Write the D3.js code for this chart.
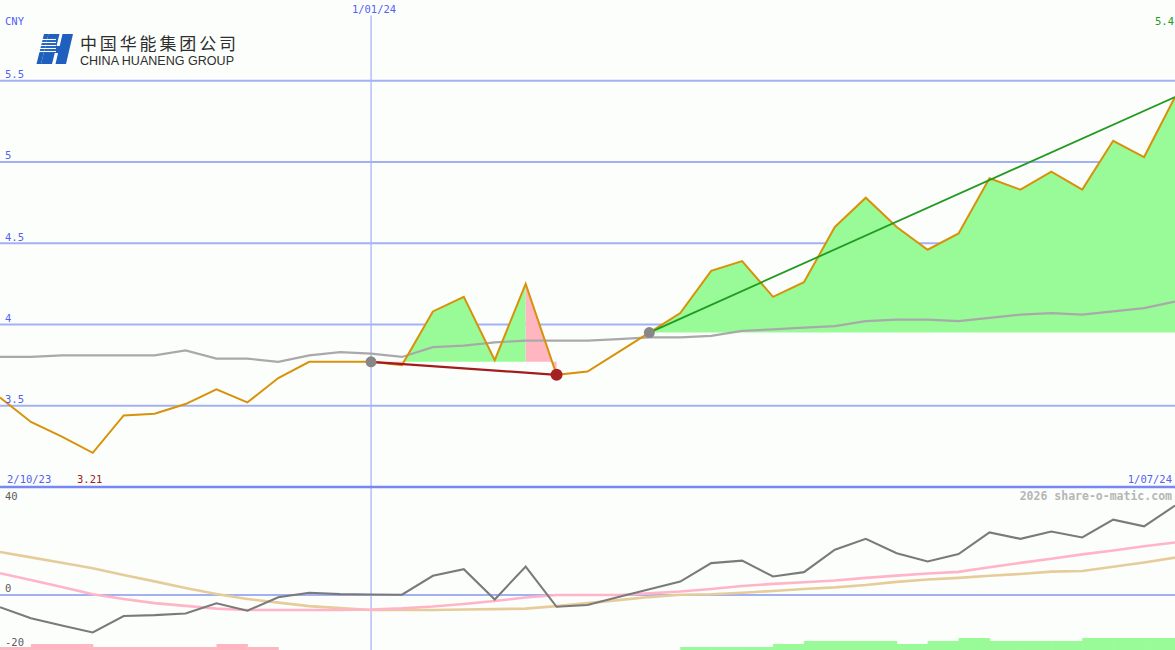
<!DOCTYPE html>
<html>
<head>
<meta charset="utf-8">
<script src="https://cdn.jsdelivr.net/npm/d3@7"></script>
<style>
  html, body { margin: 0; padding: 0; background: #fcfefc; }
  svg { display: block; }
</style>
</head>
<body>
<svg id="chart" width="1175" height="650"></svg>
<script>
// ---------- DATA ----------
const dates = ["9/10/23","16/10/23","23/10/23","30/10/23","6/11/23","13/11/23","20/11/23","27/11/23",
  "4/12/23","11/12/23","18/12/23","25/12/23","1/01/24","8/01/24","15/01/24","22/01/24","29/01/24",
  "5/02/24","12/02/24","19/02/24","26/02/24","4/03/24","11/03/24","18/03/24","25/03/24","1/04/24",
  "8/04/24","15/04/24","22/04/24","29/04/24","6/05/24","13/05/24","20/05/24","27/05/24","3/06/24",
  "10/06/24","17/06/24","24/06/24","1/07/24"];

const close = [3.55,3.40,3.31,3.21,3.44,3.45,3.51,3.60,3.52,3.67,3.77,3.77,3.77,3.75,4.08,4.17,3.78,
  4.25,3.69,3.71,3.83,3.95,4.07,4.33,4.39,4.17,4.26,4.60,4.78,4.60,4.46,4.56,4.90,4.83,4.94,4.83,
  5.13,5.03,5.40];

const movingAvg = [3.80,3.80,3.81,3.81,3.81,3.81,3.84,3.79,3.79,3.77,3.81,3.83,3.82,3.80,3.86,3.87,3.89,
  3.90,3.90,3.90,3.91,3.92,3.92,3.93,3.96,3.97,3.98,3.99,4.02,4.03,4.03,4.02,4.04,4.06,4.07,4.06,
  4.08,4.10,4.14];

// lower panel oscillator series
const momentum = [-5.3,-10.1,-13.2,-16.2,-9.1,-8.7,-8.0,-3.6,-6.8,-1.0,1.0,0.4,0.2,0.1,8.3,11.2,-1.9,
  12.3,-5.1,-4.3,-0.9,2.5,5.8,13.8,14.9,8.0,9.9,19.6,24.3,18.1,14.5,17.7,27.1,24.3,27.5,24.9,
  32.6,29.7,38.7];
const fastAvg = [9.4,6.5,3.5,0.3,-1.7,-3.5,-4.7,-5.9,-6.5,-6.5,-6.5,-6.5,-6.3,-5.8,-5.0,-3.9,-2.6,
  -1.1,0,0,0,0.7,1.5,2.6,3.9,4.8,5.5,6.3,7.4,8.4,9.3,10.0,12.0,13.9,15.7,17.6,19.3,21.1,22.7];
const slowAvg = [18.6,16.3,14.0,11.6,8.7,5.9,3.0,0.4,-1.7,-3.3,-4.8,-5.7,-6.5,-6.5,-6.5,-6.3,-6.1,
  -5.9,-4.8,-3.5,-2.2,-0.9,0.1,0.3,1.0,1.7,2.6,3.3,4.3,5.7,6.7,7.4,8.3,9.1,10.1,10.4,12.2,14.1,16.2];
// histogram strength per week (negative = pink, positive = green)
const histogram = [-1,-2,-2,-1,-1,-1,-1,-2,-1,0,0,0,0,0,0,0,0,0,0,0,0,0,1,1,1,2,3,3,3,2,3,4,3,3,3,4,4,4,0];

const priceTicks = [5.5, 5, 4.5, 4, 3.5];
const oscTicks = [40, 0, -20];

const zones = [ {from: 12, to: 18}, {from: 21, to: 38} ];
const lowLabel = "3.21";
const lastLabel = "5.4";
const startLabel = "2/10/23";
const endLabel = "1/07/24";
const markerDate = "1/01/24";
const currency = "CNY";
const credit = "2026 share-o-matic.com";
const logoCn = "中国华能集团公司";
const logoEn = "CHINA HUANENG GROUP";

// ---------- DRAW ----------
const W = 1175, H = 650;
const svg = d3.select("#chart");
const mono = "'DejaVu Sans Mono', monospace";
const labelBlue = "#5262f2";

const x = d3.scalePoint().domain(dates).range([0, W]);
const y = d3.scaleLinear().domain([3.5, 5.5]).range([405.7, 80.7]);
const yB = d3.scaleLinear().domain([-20, 40]).range([641.2, 502.6]);
const hS = d3.scaleLinear().domain([0, 4]).range([0, 12]);

const gridCol = "#a4b0f4";

// main grid
svg.append("g").selectAll("line").data(priceTicks).join("line")
  .attr("x1", 0).attr("x2", W).attr("y1", d => y(d)).attr("y2", d => y(d))
  .attr("stroke", gridCol).attr("stroke-width", 2);

// vertical date marker
svg.append("line").attr("x1", x(markerDate)).attr("x2", x(markerDate))
  .attr("y1", 15.5).attr("y2", H).attr("stroke", "#a8b4f8").attr("stroke-width", 1.3);

// zone fills (runs of same colour merged into one polygon)
const green = "#98fb98", pink = "#ffb6c1";
const fills = svg.append("g");
zones.forEach(z => {
  const base = close[z.from];
  let runStart = z.from;
  for (let i = z.from; i < z.to; i++) {
    const col = close[i + 1] >= base ? green : pink;
    const nextCol = (i + 1 < z.to) ? (close[i + 2] >= base ? green : pink) : null;
    if (nextCol !== col) {
      const pts = [[x(dates[runStart]), y(base)]];
      for (let k = runStart; k <= i + 1; k++) pts.push([x(dates[k]), y(close[k])]);
      pts.push([x(dates[i + 1]), y(base)]);
      fills.append("path").attr("d", d3.line()(pts) + "Z").attr("fill", col);
      runStart = i + 1;
    }
  }
});

// moving average
const line = d3.line().x((d, i) => x(dates[i]));
svg.append("path").attr("d", line.y(d => y(d))(movingAvg))
  .attr("fill", "none").attr("stroke", "#a9a9a9").attr("stroke-width", 2.2);

// price
svg.append("path").attr("d", line.y(d => y(d))(close))
  .attr("fill", "none").attr("stroke", "#d8920a").attr("stroke-width", 2);

// trend lines
const z0 = zones[0], z1 = zones[1];
svg.append("line")
  .attr("x1", x(dates[z0.from])).attr("y1", y(close[z0.from]))
  .attr("x2", x(dates[z0.to])).attr("y2", y(close[z0.to]))
  .attr("stroke", "#a21c1c").attr("stroke-width", 2.2);
svg.append("line")
  .attr("x1", x(dates[z1.from])).attr("y1", y(close[z1.from]))
  .attr("x2", x(dates[z1.to])).attr("y2", y(close[z1.to]))
  .attr("stroke", "#229a22").attr("stroke-width", 1.8);

// pivot markers
[z0.from, z1.from].forEach(i => {
  svg.append("circle").attr("cx", x(dates[i])).attr("cy", y(close[i])).attr("r", 5.5).attr("fill", "#878787");
});
svg.append("circle").attr("cx", x(dates[z0.to])).attr("cy", y(close[z0.to])).attr("r", 6).attr("fill", "#a52222");

// main panel bottom border
svg.append("line").attr("x1", 0).attr("x2", W).attr("y1", 487).attr("y2", 487)
  .attr("stroke", "#7888f0").attr("stroke-width", 2.5);

// price labels
const txt = (xx, yy, s, col, anchor) => svg.append("text").attr("x", xx).attr("y", yy)
  .attr("text-anchor", anchor || "start").text(s)
  .attr("font-family", mono).attr("font-size", 10.5).attr("fill", col);
svg.append("g").selectAll("text").data(priceTicks).join("text")
  .attr("x", 5).attr("y", d => y(d) - 2.5).text(d => d)
  .attr("font-family", mono).attr("font-size", 10.5).attr("fill", labelBlue);
txt(5, 24.5, currency, labelBlue);
txt(x(markerDate) + 3, 12.5, markerDate, labelBlue, "middle");
txt(1174, 24.5, lastLabel, "#229a22", "end");
txt(7, 483, startLabel, labelBlue);
txt(77, 483, lowLabel, "#a21c1c");
txt(1172, 483, endLabel, labelBlue, "end");
svg.append("text").attr("x", 1172).attr("y", 500).attr("text-anchor", "end").text(credit)
  .attr("font-family", mono).attr("font-size", 11.5).attr("font-weight", "bold").attr("fill", "#b6b6b6");

// ---------- lower panel ----------
svg.append("g").selectAll("rect").data(histogram.slice(0, -1)).join("rect")
  .attr("x", (d, i) => x(dates[i])).attr("width", (d, i) => x(dates[i + 1]) - x(dates[i]) + 0.5)
  .attr("y", d => H - hS(Math.abs(d))).attr("height", d => hS(Math.abs(d)))
  .attr("fill", d => d < 0 ? pink : green);

svg.append("line").attr("x1", 0).attr("x2", W).attr("y1", yB(0)).attr("y2", yB(0))
  .attr("stroke", gridCol).attr("stroke-width", 2);

svg.append("path").attr("d", line.y(d => yB(d))(slowAvg))
  .attr("fill", "none").attr("stroke", "#e6cc9a").attr("stroke-width", 2.6);
svg.append("path").attr("d", line.y(d => yB(d))(fastAvg))
  .attr("fill", "none").attr("stroke", "#ffb4c8").attr("stroke-width", 2.6);
svg.append("path").attr("d", line.y(d => yB(d))(momentum))
  .attr("fill", "none").attr("stroke", "#7a7a7a").attr("stroke-width", 2.1);

svg.append("g").selectAll("text").data(oscTicks).join("text")
  .attr("x", 5).attr("y", d => d < 0 ? H - 4 : yB(d) - 3).text(d => d)
  .attr("font-family", mono).attr("font-size", 10.5).attr("fill", "#5c5c5c");

// ---------- logo ----------
const logo = svg.append("g");
const blue = "#1f5fbe";
logo.append("path").attr("d", "M48.5,34 L59.5,34 L52,64 L41,64 Z").attr("fill", blue);
logo.append("path").attr("d", "M62.5,34 L73,34 L66,64 L55.5,64 Z").attr("fill", blue);
logo.append("path").attr("d", "M50,46 L64,46 L62.5,53 L48.5,53 Z").attr("fill", blue);
logo.append("path").attr("d", "M44,34 L48.5,34 L41,64 L36.5,64 Z").attr("fill", blue);
[39.5, 42.5, 45.5, 48.5, 51.5].forEach(v => {
  logo.append("line").attr("x1", 36).attr("x2", 56).attr("y1", v).attr("y2", v)
    .attr("stroke", "#fcfefc").attr("stroke-width", 1.1);
});
logo.append("text").attr("x", 80).attr("y", 50).text(logoCn)
  .attr("font-family", "'Noto Sans CJK SC', sans-serif").attr("font-size", 17)
  .attr("textLength", 156).attr("lengthAdjust", "spacing").attr("fill", "#2e2e2e");
logo.append("text").attr("x", 80).attr("y", 64.5).text(logoEn)
  .attr("font-family", "'Liberation Sans', Arial, sans-serif").attr("font-size", 12)
  .attr("textLength", 154).attr("lengthAdjust", "spacingAndGlyphs").attr("fill", "#2e2e2e");
</script>
</body>
</html>
